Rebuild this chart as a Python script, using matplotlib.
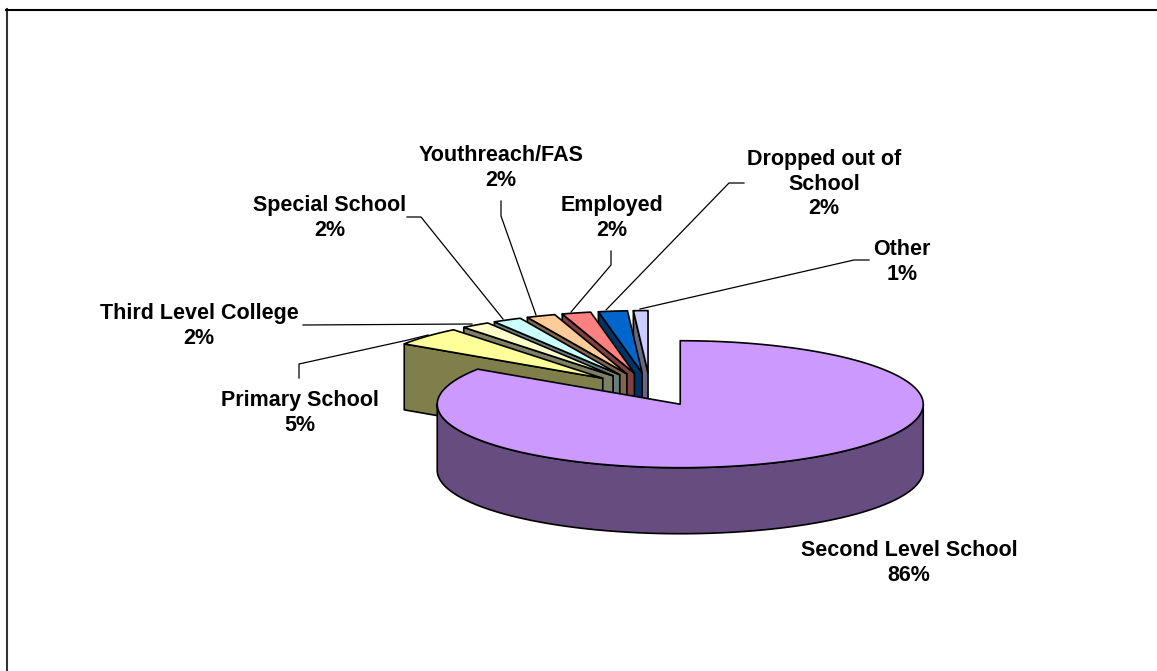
import numpy as np
import matplotlib
matplotlib.use('Agg')
import matplotlib.pyplot as plt
from matplotlib.patches import Polygon

categories = ['Second Level School', 'Primary School', 'Third Level College',
              'Special School', 'Youthreach/FAS', 'Employed',
              'Dropped out of\nSchool', 'Other']
values = [86, 5, 2, 2, 2, 2, 2, 1]
top_colors = ['#CC99FF', '#FFFF99', '#FFFFCC', '#CCFFFF',
              '#FFCC99', '#FF8080', '#0066CC', '#CCCCFF']
wall_colors = ['#664C7F', '#7F7F4C', '#7F7F66', '#667F7F',
               '#7F664C', '#7F4040', '#003366', '#66667F']
label_xy = [(909, 563), (300, 413), (199, 326), (330, 218),
            (501, 168), (612, 218), (824, 184), (902, 262)]
leaders = [None,
           [(299, 378), (299, 364), (408, 340), (428, 335)],
           [(303, 325), (472, 324)],
           [(407, 217), (421, 217), (503, 319)],
           [(501, 201), (501, 216), (536, 315)],
           [(611, 251), (611, 265), (571, 312)],
           [(744, 183), (729, 183), (606, 310)],
           [(869, 260), (854, 260), (640, 309)]]

# pie geometry in pixels
cx, cy = 650, 389.5
rx, ry = 243, 63.5
depth = 66
explode = 0.263
small_scale = 0.98

plt.rcParams['font.family'] = ['Liberation Sans', 'DejaVu Sans']

fig = plt.figure(figsize=(11.57, 6.71), dpi=100)
ax = fig.add_axes([0, 0, 1, 1])
ax.set_xlim(0, 1157)
ax.set_ylim(671, 0)
ax.axis('off')

# chart area border, only the top and left edges fall inside the image
ax.plot([6.5, 6.5], [671, 9], color='#333333', lw=1.5, zorder=1, clip_on=False)
ax.plot([6, 1157], [9.5, 9.5], color='black', lw=1.5, zorder=1, clip_on=False)


def arc(x0, y0, a0, a1, scale=1.0):
    t = np.radians(np.linspace(a0, a1, 200))
    return np.column_stack([x0 + scale * rx * np.sin(t), y0 - scale * ry * np.cos(t)])


shares = np.array(values) / sum(values) * 360
edges = np.concatenate([[0], np.cumsum(shares)])
outline = dict(edgecolor='black', lw=1.2, joinstyle='round')

# back slices first, the big slice goes on top of everything
z = 2
for i in list(range(len(values) - 1, 0, -1)) + [0]:
    a0, a1 = edges[i], edges[i + 1]
    mid = np.radians((a0 + a1) / 2)
    x0 = cx + explode * rx * np.sin(mid)
    y0 = cy - explode * ry * np.cos(mid)
    scale = 1.0 if i == 0 else small_scale
    rim = arc(x0, y0, a0, a1, scale)
    if i == 0:
        # front rim of the big slice
        front = arc(x0, y0, 90, 270)
        wall = np.vstack([front, front[::-1] + [0, depth]])
    else:
        # the cut face on the leading edge is the one that shows
        wall = np.array([[x0, y0], rim[0], rim[0] + [0, depth], [x0, y0 + depth]])
    ax.add_patch(Polygon(wall, closed=True, facecolor=wall_colors[i], zorder=z, **outline))
    z += 1
    ax.add_patch(Polygon(np.vstack([[x0, y0], rim]), closed=True,
                         facecolor=top_colors[i], zorder=z, **outline))
    z += 1

for name, val, (lx, ly), line in zip(categories, values, label_xy, leaders):
    ax.text(lx, ly, f'{name}\n{val}%', ha='center', va='center', fontsize=15.5,
            fontweight='bold', linespacing=1.2, zorder=30)
    if line:
        xs, ys = zip(*line)
        ax.plot(xs, ys, color='black', lw=0.9, zorder=1.5)

fig.savefig('out.png', dpi=100)
